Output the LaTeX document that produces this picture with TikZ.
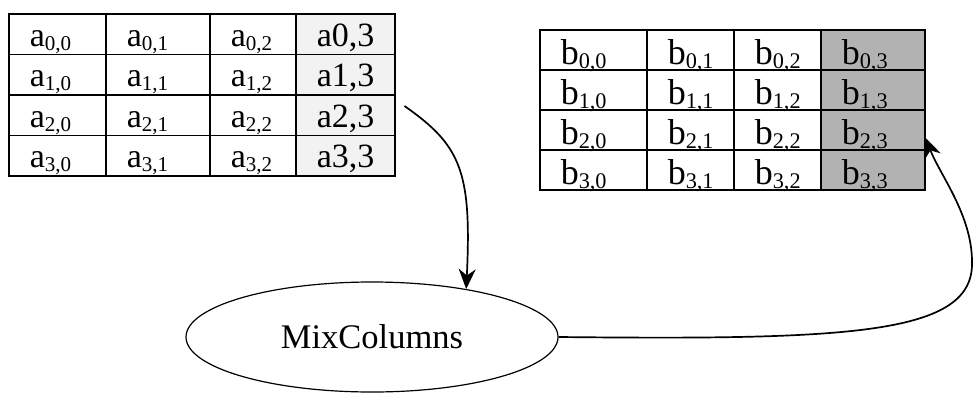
\documentclass[tikz,border=0pt]{standalone}
\usepackage{fontspec}
\setmainfont{Liberation Serif}
\usepackage{graphicx}
\usetikzlibrary{shapes.geometric,arrows.meta}

% index written below the letter
\newcommand{\ix}[1]{\raisebox{-4pt}{\scalebox{0.62}{#1}}}

\definecolor{lastA}{gray}{0.95}
\definecolor{lastB}{gray}{0.7}

\tikzset{
    acell/.style={draw=black, line width=1.5pt, anchor=north west, inner xsep=21pt, inner ysep=0pt,
        align=left, text width=#1, text height=32.5pt, text depth=8pt, font=\fontsize{34}{40}\selectfont},
    bcell/.style={draw=black, line width=1.5pt, anchor=north west, inner xsep=21pt, inner ysep=0pt,
        align=left, text width=#1, text height=35pt, text depth=5pt, font=\fontsize{36}{44}\selectfont},
    mixbox/.style={ellipse, draw=black, line width=1.2pt, minimum width=372pt, minimum height=110pt,
        inner sep=0pt, font=\fontsize{34.5}{40}\selectfont},
    flow/.style={line width=1.7pt, -{Stealth[length=20pt,width=17pt]}}
}

\begin{document}
\begin{tikzpicture}[x=1pt, y=-1pt]
            \useasboundingbox (0,0) rectangle (974,394);

            % state a
            \node[acell=55pt] (a00) at (8,13) {a\ix{0,0}};
            \node[acell=62pt] (a01) at (105,13) {a\ix{0,1}};
            \node[acell=44pt] (a02) at (209,13) {a\ix{0,2}};
            \node[acell=57pt, fill=lastA] (a03) at (295,13) {a0,3};
            %
            \node[acell=55pt] (a10) at (8,53.5) {a\ix{1,0}};
            \node[acell=62pt] (a11) at (105,53.5) {a\ix{1,1}};
            \node[acell=44pt] (a12) at (209,53.5) {a\ix{1,2}};
            \node[acell=57pt, fill=lastA] (a13) at (295,53.5) {a1,3};
            %
            \node[acell=55pt] (a20) at (8,94) {a\ix{2,0}};
            \node[acell=62pt] (a21) at (105,94) {a\ix{2,1}};
            \node[acell=44pt] (a22) at (209,94) {a\ix{2,2}};
            \node[acell=57pt, fill=lastA] (a23) at (295,94) {a2,3};
            %
            \node[acell=55pt] (a30) at (8,134.5) {a\ix{3,0}};
            \node[acell=62pt] (a31) at (105,134.5) {a\ix{3,1}};
            \node[acell=44pt] (a32) at (209,134.5) {a\ix{3,2}};
            \node[acell=57pt, fill=lastA] (a33) at (295,134.5) {a3,3};

            % state b
            \node[bcell=65pt] (b00) at (539,29) {b\ix{0,0}};
            \node[bcell=45pt] (b01) at (646,29) {b\ix{0,1}};
            \node[bcell=45pt] (b02) at (733,29) {b\ix{0,2}};
            \node[bcell=62pt, fill=lastB] (b03) at (820,29) {b\ix{0,3}};
            %
            \node[bcell=65pt] (b10) at (539,69) {b\ix{1,0}};
            \node[bcell=45pt] (b11) at (646,69) {b\ix{1,1}};
            \node[bcell=45pt] (b12) at (733,69) {b\ix{1,2}};
            \node[bcell=62pt, fill=lastB] (b13) at (820,69) {b\ix{1,3}};
            %
            \node[bcell=65pt] (b20) at (539,109) {b\ix{2,0}};
            \node[bcell=45pt] (b21) at (646,109) {b\ix{2,1}};
            \node[bcell=45pt] (b22) at (733,109) {b\ix{2,2}};
            \node[bcell=62pt, fill=lastB] (b23) at (820,109) {b\ix{2,3}};
            %
            \node[bcell=65pt] (b30) at (539,149) {b\ix{3,0}};
            \node[bcell=45pt] (b31) at (646,149) {b\ix{3,1}};
            \node[bcell=45pt] (b32) at (733,149) {b\ix{3,2}};
            \node[bcell=62pt, fill=lastB] (b33) at (820,149) {b\ix{3,3}};

            % MixColumns
            \node[mixbox] (mix) at (372,337) {MixColumns};

            % column in
            \draw[flow] ([xshift=9pt,yshift=9pt]a23.east) .. controls (460,145) and (472,170) .. (mix.27);
            % column out
            \coordinate (turn) at (972,262);
            \draw[flow] (mix.east) .. controls (850,340) and (974,335) .. (turn)
                .. controls (972,215) and (940,175) .. ([yshift=-8pt]b23.east);
\end{tikzpicture}
\end{document}
